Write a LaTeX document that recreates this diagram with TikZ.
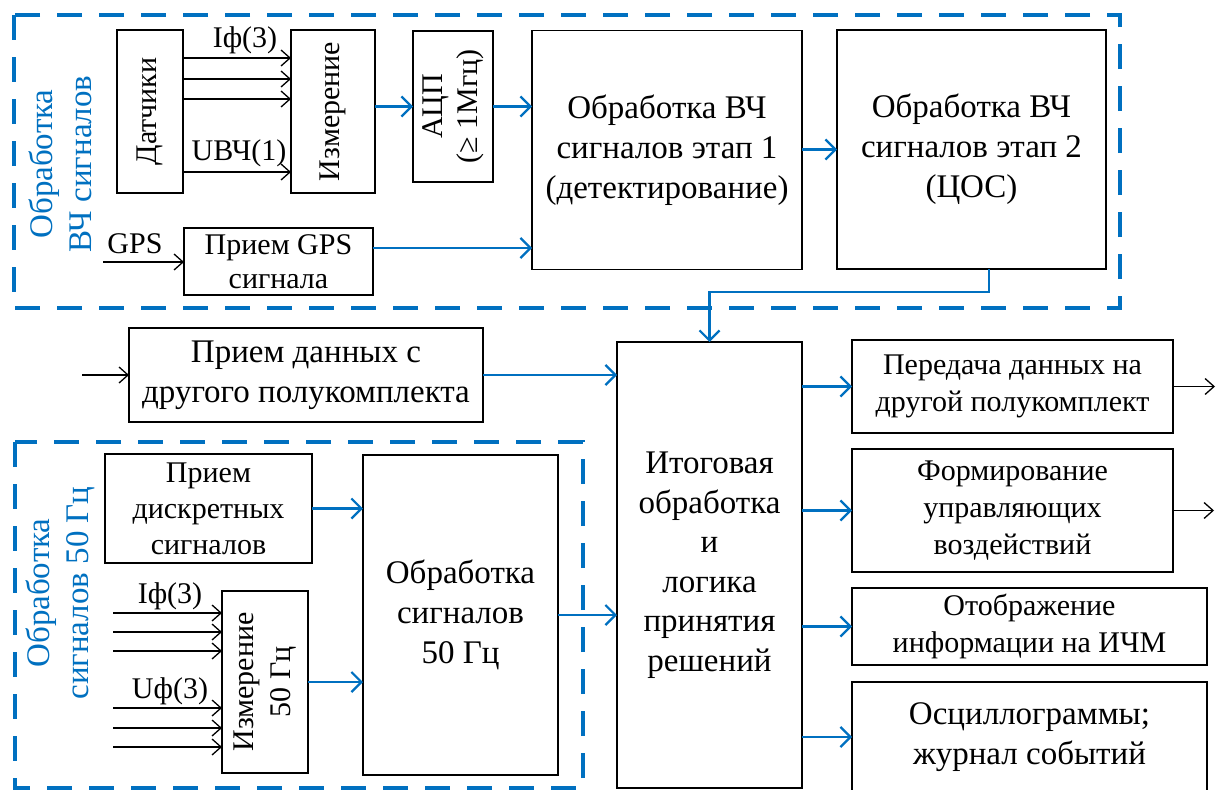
\documentclass[tikz,border=0pt]{standalone}
\usepackage{fontspec}
\setmainfont{Liberation Serif}
\usetikzlibrary{arrows.meta}
\definecolor{wblue}{RGB}{0,112,192}
\begin{document}
\begin{tikzpicture}[x=1pt,y=-1pt,
  box/.style={draw,line width=1.6pt,inner sep=0pt,outer sep=0pt,align=center},
  big/.style={font=\fontsize{33}{40}\selectfont},
  sml/.style={font=\fontsize{30}{37}\selectfont},
  vt/.style={rotate=90,align=center,inner sep=0pt},
  blk/.style={line width=1.3pt,-{Straight Barb[length=9pt,width=16pt,line width=1.3pt]}},
  blu/.style={wblue,line width=2.2pt,-{Straight Barb[length=10pt,width=20pt,line width=2.2pt]}},
  grp/.style={wblue,line width=3.5pt,dash pattern=on 25pt off 17pt},
  grplbl/.style={wblue,font=\fontsize{33}{39}\selectfont,rotate=90,align=center,inner sep=0pt}]
\useasboundingbox (0,0) rectangle (1224,790);

% group frames
\draw[grp] (14,15) rectangle (1120,308);
\draw[grp] (15,442) rectangle (583,788);
\node[grplbl] (g1) at (60,164) {Обработка\\ВЧ сигналов};
\node[grplbl] (g2) at (60,593) {Обработка\\сигналов 50 Гц};

% HF part
\node[box,minimum width=66pt,minimum height=163pt] (dat) at (150,111.5) {};
\node[sml,vt] (datt) at (dat) {Датчики};
\node[box,minimum width=84pt,minimum height=163pt] (izm) at (333,111.5) {};
\node[sml,vt] (izmt) at (izm) {Измерение};
\node[box,minimum width=80pt,minimum height=151pt] (adc) at (453,106.5) {};
\node[sml,vt,font=\fontsize{30}{35}\selectfont] (adct) at (adc) {АЦП\\(≥ 1Мгц)};
\node[box,big,minimum width=270pt,minimum height=239pt] (hf1) at (667,150) {Обработка ВЧ\\сигналов этап 1\\(детектирование)};
\node[box,big,minimum width=269pt,minimum height=239pt] (hf2) at (971.5,149.5) {Обработка ВЧ\\сигналов этап 2\\(ЦОС)};
\node[box,sml,font=\fontsize{30}{34}\selectfont,minimum width=189pt,minimum height=67pt] (gps) at (278.5,261.5) {Прием GPS\\сигнала};

\node[sml,anchor=base] (lif) at (245,47) {Iф(3)};
\node[sml,anchor=base] (luv) at (239,160) {UВЧ(1)};
\node[sml,anchor=base] (lgps) at (135,253) {GPS};

\foreach \yy in {58,79,99,172}{
  \coordinate (t) at (0,\yy);
  \draw[blk] (dat.east |- t) -- (izm.west |- t);
}
\coordinate (gpsin) at (103,262);
\draw[blk] (gpsin) -- (gpsin -| gps.west);
\draw[blu] (izm.east |- adc.west) -- (adc.west);
\draw[blu] (adc.east) -- (adc.east -| hf1.west);
\coordinate (gpsy) at (0,248);
\draw[blu] (gps.east |- gpsy) -- (hf1.west |- gpsy);
\draw[blu] (hf1.east |- hf2.west) -- (hf2.west);

% main
\node[box,big,minimum width=185pt,minimum height=446pt,font=\fontsize{33}{39.5}\selectfont] (itog) at (709.5,565) {Итоговая\\обработка\\и\\логика\\принятия\\решений};
\coordinate (hbx) at (989,292);
\draw[blu] (hf2.south -| hbx) -- (hbx) -| (itog.north);

\node[box,big,minimum width=354pt,minimum height=94pt] (rcv) at (306,375) {Прием данных с\\другого полукомплекта};
\coordinate (rcvin) at (82,375);
\draw[blk] (rcvin) -- (rcv.west);
\draw[blu] (rcv.east) -- (rcv.east -| itog.west);

% 50 Hz part
\node[box,sml,font=\fontsize{30}{36}\selectfont,minimum width=207pt,minimum height=109pt] (disc) at (208.5,508.5) {Прием\\дискретных\\сигналов};
\node[box,minimum width=86pt,minimum height=182pt] (izm50) at (265,682) {};
\node[sml,vt,font=\fontsize{30}{37}\selectfont] (izm50t) at (izm50) {Измерение\\50 Гц};
\node[box,big,minimum width=195pt,minimum height=320pt] (p50) at (460.5,615) {Обработка\\сигналов\\50 Гц};
\node[sml,anchor=base] (lif2) at (170,603) {Iф(3)};
\node[sml,anchor=base] (luf2) at (170,698) {Uф(3)};
\foreach \yy in {613,632,651,708,728,747}{
  \coordinate (t) at (113,\yy);
  \draw[blk] (t) -- (t -| izm50.west);
}
\draw[blu] (disc.east) -- (disc.east -| p50.west);
\draw[blu] (izm50.east) -- (izm50.east -| p50.west);
\draw[blu] (p50.east) -- (p50.east -| itog.west);

% outputs
\node[box,sml,minimum width=321pt,minimum height=93pt] (tx) at (1012.5,386.5) {Передача данных на\\другой полукомплект};
\node[box,sml,minimum width=321pt,minimum height=123pt] (form) at (1012.5,510.5) {Формирование\\управляющих\\воздействий};
\node[box,sml,minimum width=355pt,minimum height=77pt] (disp) at (1029.5,626.5) {Отображение\\информации на ИЧМ};
\node[box,big,minimum width=355pt,minimum height=110pt] (osc) at (1029.5,737) {Осциллограммы;\\журнал событий};
\draw[blu] (itog.east |- tx.west) -- (tx.west);
\draw[blu] (itog.east |- form.west) -- (form.west);
\draw[blu] (itog.east |- disp.west) -- (disp.west);
\draw[blu] (itog.east |- osc.west) -- (osc.west);
\coordinate (txout) at (1215,385);
\coordinate (fmout) at (1214,510);
\draw[blk] (tx.east) -- (tx.east -| txout);
\draw[blk] (form.east) -- (form.east -| fmout);
\end{tikzpicture}
\end{document}
